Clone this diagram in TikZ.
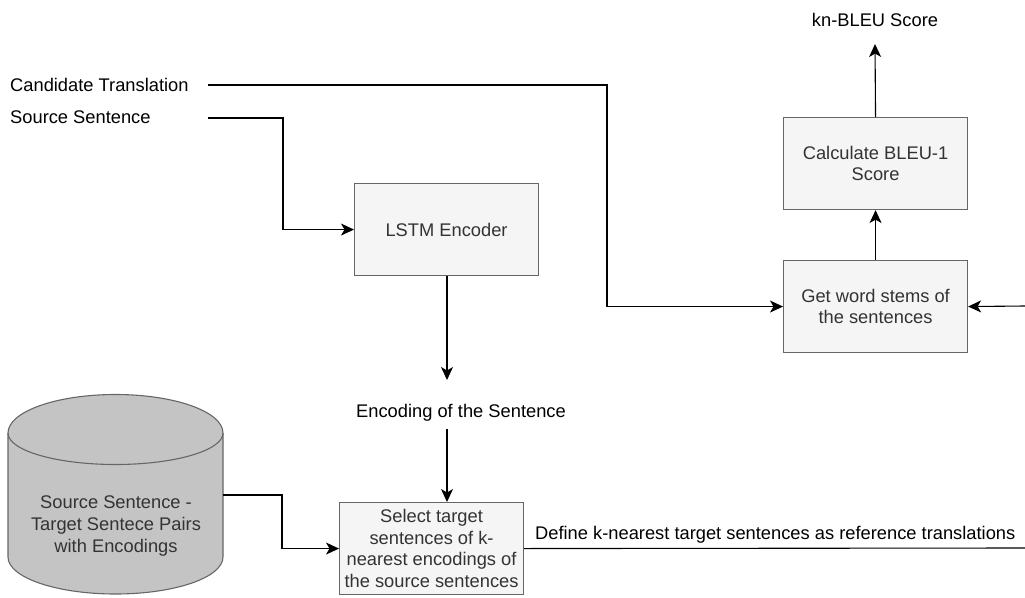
\documentclass[tikz,border=0pt]{standalone}
\usepackage{fontspec}
\setmainfont{Liberation Sans}
\usetikzlibrary{arrows.meta}
\definecolor{boxfill}{HTML}{F5F5F5}
\definecolor{boxline}{HTML}{666666}
\definecolor{boxtext}{HTML}{333333}
\definecolor{dbfill}{HTML}{C4C4C4}
\tikzset{
  x=1pt,y=-1pt,
  proc/.style={draw=boxline,fill=boxfill,line width=1.1pt,text=boxtext,align=center,font=\fontsize{18.3}{21.7}\selectfont,inner sep=0pt,anchor=north west},
  lab/.style={text=black,font=\fontsize{18.3}{22}\selectfont,inner sep=0pt},
  conn/.style={draw=black,line width=1.1pt},
  arr/.style={conn,-{Stealth[length=13pt,width=12pt,inset=3.5pt]}},
}
\begin{document}
\begin{tikzpicture}
\useasboundingbox (0,0) rectangle (1025,597);
\node[proc,minimum width=184pt,minimum height=92pt] (lstm) at (354,183) {LSTM Encoder};
\node[proc,minimum width=184pt,minimum height=92pt] (calc) at (783,117) {Calculate BLEU-1\\Score};
\node[proc,minimum width=184pt,minimum height=92pt] (stem) at (783,260) {Get word stems of\\the sentences};
\node[proc,minimum width=184pt,minimum height=92pt] (sel) at (339,502) {Select target\\sentences of k-\\nearest encodings of\\the source sentences};
\path[draw=boxline,fill=dbfill,line width=1.1pt] (8,433) arc[start angle=180,end angle=360,x radius=107.5,y radius=38.5] -- (223,557) arc[start angle=0,end angle=180,x radius=107.5,y radius=37] -- cycle;
\draw[boxline,line width=1.1pt] (8,433) arc[start angle=180,end angle=0,x radius=107.5,y radius=31.5];
\node[text=boxtext,align=center,font=\fontsize{18.3}{21.7}\selectfont,inner sep=0pt] (db) at (116,526) {Source Sentence -\\Target Sentece Pairs\\with Encodings};
\coordinate (dbr) at (223,495);
\node[lab,anchor=west] (cand) at (10,85) {Candidate Translation};
\node[lab,anchor=west] (src) at (10,117) {Source Sentence};
\node[lab] (enc) at (461,413) {Encoding of the Sentence};
\node[lab] (score) at (875,20) {kn-BLEU Score};
\node[lab,anchor=west] (def) at (535,535) {Define k-nearest target sentences as reference translations};
\coordinate (cs) at (208,85);
\coordinate (ss) at (208,118);
\coordinate (re) at (1025,306);
\coordinate (de) at (1025,548);
\coordinate (encin) at (447,380);
\coordinate (encout) at (447,429);
\coordinate (top) at (875,44);
\coordinate (ka) at (607,85);
\coordinate (kb) at (283,118);
\coordinate (kc) at (282,495);
\draw[arr] (cs) -- (ka) -- (ka |- stem.west) -- (stem.west);
\draw[arr] (ss) -- (kb) -- (kb |- lstm.west) -- (lstm.west);
\draw[arr] (lstm.south -| encin) -- (encin);
\draw[arr] (encout) -- (sel.north -| encout);
\draw[arr] (dbr) -- (kc) -- (kc |- sel.west) -- (sel.west);
\draw[conn] (sel.east) -- (de);
\draw[arr] (re) -- (stem.east);
\draw[arr] (stem.north) -- (calc.south);
\draw[arr] (calc.north) -- (top);
\end{tikzpicture}
\end{document}
